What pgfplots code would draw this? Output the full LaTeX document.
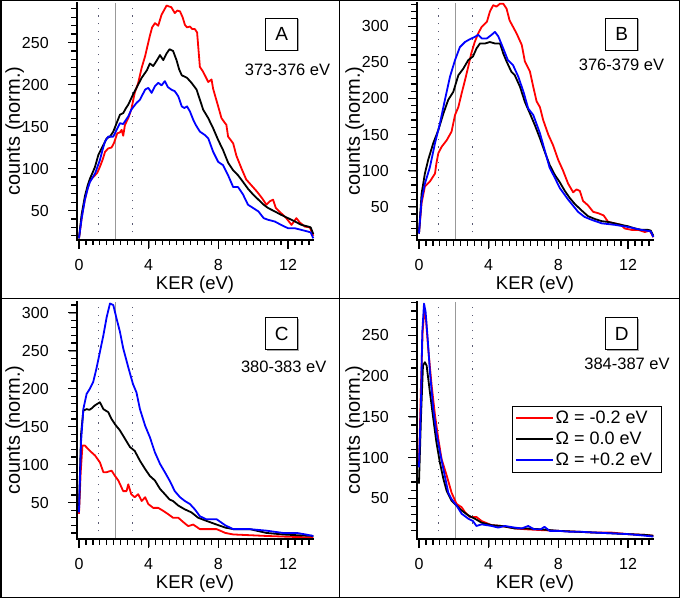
\documentclass[border=0pt]{standalone}
\usepackage{fontspec}
\setmainfont{Liberation Sans}
\usepackage{pgfplots}
\pgfplotsset{compat=1.18}

\definecolor{dotgray}{rgb}{0.35,0.35,0.45}
\definecolor{solgray}{rgb}{0.6,0.6,0.6}

\pgfplotsset{
 panel/.style={
  scale only axis, width=236.6pt, height=237pt,
  xmin=-0.13, xmax=13.45,
  axis x line*=bottom, axis y line*=left,
  axis line style={-, line width=1.6pt},
  tick align=outside,
  major tick length=8pt, minor tick length=5pt,
  xtick={0,4,8,12},
  /pgf/number format/assume math mode=true,
  tick label style={font=\fontsize{16}{19}\selectfont},
  yticklabel style={xshift=-16.5pt},
  xticklabel style={yshift=-8pt},
  xlabel={KER (eV)}, ylabel={counts (norm.)},
  xlabel style={font=\fontsize{18.5}{22}\selectfont, at={(axis description cs:0.5,-0.19)}, anchor=center},
  ylabel style={font=\fontsize{20}{24}\selectfont, at={(axis description cs:-0.262,0.46)}, anchor=center},
  clip=false,
 },
 dl/.style={line width=1.8pt, line join=round},
 tk/.style={forget plot, black, line width=1.2pt, line cap=butt},
 ax/.style={forget plot, black, line width=1.6pt, line cap=rect},
}
\newcommand{\vlines}[2]{%
  \addplot[forget plot, dotgray, line width=1pt, dash pattern=on 1.2pt off 6.5pt] coordinates {(1.1,#1) (1.1,#2)};
  \addplot[forget plot, dotgray, line width=1pt, dash pattern=on 1.2pt off 6.5pt] coordinates {(3.1,#1) (3.1,#2)};
  \addplot[forget plot, solgray, line width=1.2pt] coordinates {(2.1,#1) (2.1,#2)};
}
% axis lines and ticks through the axis: #1 ymin, #2 ymax, #3 major x-tick end, #4 minor x-tick end, #5 major y, #6 minor y
\newcommand{\tickset}[6]{%
  \addplot[ax] coordinates {(-0.13,#2) (-0.13,#1) (13.45,#1)};
  \pgfplotsinvokeforeach{0,4,8,12}{\addplot[tk] coordinates {(##1,#1) (##1,#3)};}
  \pgfplotsinvokeforeach{0.4,0.8,1.2,1.6,2,2.4,2.8,3.2,3.6,4.4,4.8,5.2,5.6,6,6.4,6.8,7.2,7.6,8.4,8.8,9.2,9.6,10,10.4,10.8,11.2,11.6,12.4,12.8,13.2}{\addplot[tk] coordinates {(##1,#1) (##1,#4)};}
  \pgfplotsinvokeforeach{#5}{\addplot[tk] coordinates {(-0.13,##1) (-0.618,##1)};}
  \pgfplotsinvokeforeach{#6}{\addplot[tk] coordinates {(-0.13,##1) (-0.446,##1)};}
}

\begin{document}
\begin{tikzpicture}
\path[use as bounding box] (0pt,0pt) rectangle (680pt,598pt);
\begin{scope}[x=1pt,y=1pt]
\draw[line width=1.5pt] (0.75,0.75) rectangle (679.25,597.25);
\draw[line width=1.5pt] (339.5,0) -- (339.5,598);
\draw[line width=1.5pt] (0,299.5) -- (680,299.5);
\end{scope}

% ---------------- A
\begin{axis}[panel, at={(76.7pt,358pt)}, anchor=south west, ymin=15, ymax=297, ytick={50,100,150,200,250}]
\vlines{15}{297}
\addplot[dl, red] coordinates {(0,17) (0.2,48) (0.34,63) (0.44,72) (0.6,84) (0.73,88) (0.92,92) (1.05,95) (1.2,102) (1.35,110) (1.5,120) (1.68,124) (1.87,125) (2.0,130) (2.07,134) (2.2,142) (2.35,143) (2.45,146) (2.54,139) (2.64,152) (2.83,160) (3.0,170) (3.2,190) (3.4,202) (3.6,220) (3.8,234) (3.9,243) (4.07,258) (4.2,268) (4.36,273) (4.55,270) (4.74,283) (4.9,289) (5.03,294) (5.15,293) (5.3,292) (5.5,285) (5.65,288) (5.8,287) (5.95,280) (6.08,271) (6.2,268) (6.37,269) (6.5,266) (6.65,266) (6.78,262) (6.94,221) (7.13,215) (7.3,208) (7.42,203) (7.61,206) (7.7,195) (7.99,174) (8.18,160) (8.35,155) (8.46,152) (8.56,138) (8.85,130) (9.04,115) (9.33,100) (9.6,87) (9.9,80) (10.2,73) (10.5,65) (10.76,57) (10.95,61) (11.14,63) (11.3,53) (11.6,47) (11.9,41) (12.2,33) (12.48,41) (12.67,36) (12.96,31) (13.25,30) (13.45,20)};
\addplot[dl, black] coordinates {(0,17) (0.15,45) (0.34,67) (0.5,80) (0.63,88) (0.8,96) (0.92,102) (1.11,116) (1.3,124) (1.45,130) (1.59,136) (1.78,138) (1.97,144) (2.16,154) (2.35,164) (2.54,166) (2.7,172) (2.83,176) (3.1,188) (3.4,200) (3.6,208) (3.9,217) (4.07,225) (4.26,222) (4.45,228) (4.65,235) (4.84,229) (5.03,237) (5.2,242) (5.4,240) (5.6,229) (5.75,218) (5.9,211) (6.2,208) (6.46,202) (6.75,194) (6.94,182) (7.13,170) (7.42,160) (7.7,148) (7.99,134) (8.27,122) (8.56,107) (8.85,98) (9.13,92) (9.42,84) (9.7,76) (10.0,69) (10.3,63) (10.6,57) (10.86,53) (11.24,49) (11.6,45) (12.0,41) (12.39,37) (12.77,33) (13.15,31) (13.3,30) (13.45,22)};
\addplot[dl, blue] coordinates {(0,17) (0.15,40) (0.34,63) (0.5,76) (0.63,84) (0.8,90) (0.92,94) (1.2,110) (1.35,122) (1.49,132) (1.68,138) (1.97,138) (2.16,146) (2.35,154) (2.54,153) (2.7,158) (2.83,162) (3.0,170) (3.3,178) (3.5,182) (3.65,188) (3.8,194) (3.98,196) (4.17,190) (4.36,198) (4.55,202) (4.74,199) (4.93,204) (5.1,197) (5.3,194) (5.5,192) (5.7,186) (5.9,174) (6.05,172) (6.2,174) (6.37,168) (6.56,158) (6.7,152) (6.94,144) (7.22,140) (7.42,136) (7.7,120) (7.99,108) (8.27,104) (8.56,92) (8.85,78) (9.13,78) (9.42,69) (9.7,57) (10.0,53) (10.3,49) (10.6,41) (10.86,39) (11.24,37) (11.6,33) (12.0,29) (12.39,29) (12.77,27) (13.15,25) (13.3,24) (13.45,17)};
\tickset{15}{297}{4.886}{8.456}{50,100,150,200,250}{20,30,40,60,70,80,90,110,120,130,140,160,170,180,190,210,220,230,240,260,270,280,290}
\end{axis}

% ---------------- B
\begin{axis}[panel, at={(416.7pt,358pt)}, anchor=south west, ymin=4, ymax=332, ytick={50,100,150,200,250,300}]
\vlines{4}{332}
\addplot[dl, red] coordinates {(0,13) (0.15,55) (0.34,78) (0.63,85) (0.92,96) (1.0,110) (1.11,124) (1.3,133) (1.59,142) (1.87,154) (2.07,177) (2.26,188) (2.45,207) (2.64,225) (2.83,244) (3.0,262) (3.2,278) (3.4,290) (3.6,299) (3.9,306) (4.07,320) (4.26,329) (4.45,327) (4.65,331) (4.84,331) (5.03,324) (5.2,308) (5.4,299) (5.6,290) (5.9,274) (6.08,251) (6.37,237) (6.56,216) (6.75,196) (6.94,188) (7.13,170) (7.42,150) (7.7,135) (7.99,115) (8.27,100) (8.56,82) (8.85,70) (9.04,74) (9.23,72) (9.42,58) (9.7,52) (10.0,43) (10.3,41) (10.6,38) (10.86,29) (11.24,27) (11.6,25) (11.8,20) (12.2,18) (12.6,18) (12.96,15) (13.25,17) (13.45,8)};
\addplot[dl, black] coordinates {(0,13) (0.15,68) (0.34,96) (0.53,115) (0.82,138) (1.11,156) (1.4,179) (1.68,198) (1.97,209) (2.26,232) (2.54,241) (2.83,253) (3.1,258) (3.3,269) (3.5,276) (3.8,276) (4.07,278) (4.36,276) (4.65,276) (4.84,262) (5.03,251) (5.3,237) (5.5,232) (5.8,216) (6.08,195) (6.37,179) (6.65,163) (6.94,145) (7.22,126) (7.5,108) (7.8,94) (8.08,84) (8.37,72) (8.66,62) (8.94,54) (9.33,45) (9.7,37) (10.1,33) (10.5,30) (10.86,29) (11.24,27) (11.6,25) (12.0,23) (12.39,20) (12.77,18) (13.15,18) (13.3,17) (13.45,10)};
\addplot[dl, blue] coordinates {(0,13) (0.15,59) (0.34,82) (0.63,105) (0.92,138) (1.2,165) (1.49,198) (1.78,230) (2.07,253) (2.35,271) (2.64,278) (2.93,282) (3.2,285) (3.4,288) (3.6,283) (3.9,283) (4.17,288) (4.36,292) (4.55,286) (4.84,269) (5.1,253) (5.4,246) (5.7,230) (6.0,209) (6.27,186) (6.56,177) (6.94,152) (7.22,128) (7.5,104) (7.8,90) (8.08,76) (8.56,60) (9.13,43) (9.5,36) (9.9,32) (10.5,27) (11.24,25) (12.0,22) (12.77,18) (13.3,16) (13.45,8)};
\tickset{4}{332}{-7.764}{-3.612}{50,100,150,200,250,300}{10,20,30,40,60,70,80,90,110,120,130,140,160,170,180,190,210,220,230,240,260,270,280,290,310,320,330}
\end{axis}

% ---------------- C
\begin{axis}[panel, at={(76.7pt,59pt)}, anchor=south west, ymin=2, ymax=314, ytick={50,100,150,200,250,300}]
\vlines{2}{314}
\addplot[dl, red] coordinates {(0,35) (0.1,90) (0.2,125) (0.34,125) (0.63,118) (0.92,112) (1.2,103) (1.4,90) (1.59,90) (1.87,92) (2.07,85) (2.26,79) (2.54,65) (2.73,65) (2.83,74) (3.0,61) (3.2,57) (3.4,61) (3.6,52) (3.8,57) (3.98,48) (4.26,43) (4.55,43) (4.84,39) (5.1,35) (5.4,30) (5.7,30) (6.0,24) (6.27,19) (6.56,21) (6.94,15) (7.3,15) (7.9,15) (8.4,10) (8.85,8) (10.76,6) (12.0,5) (13.45,4)};
\addplot[dl, black] coordinates {(0,41) (0.12,140) (0.25,171) (0.44,173) (0.6,172) (0.73,174) (0.92,178) (1.2,182) (1.4,173) (1.68,169) (1.87,160) (2.07,153) (2.35,145) (2.64,134) (2.93,123) (3.2,118) (3.5,105) (3.8,94) (4.07,85) (4.36,79) (4.65,68) (4.93,61) (5.2,54) (5.4,52) (5.7,46) (6.08,41) (6.46,37) (6.84,30) (7.3,26) (7.9,21) (8.4,17) (8.85,15) (9.8,15) (10.76,10) (11.7,8) (12.5,7) (13.45,6)};
\addplot[dl, blue] coordinates {(0,37) (0.12,130) (0.25,173) (0.44,193) (0.63,200) (0.82,209) (1.0,226) (1.2,248) (1.4,270) (1.59,294) (1.78,312) (1.97,310) (2.16,292) (2.35,275) (2.54,253) (2.83,228) (3.1,206) (3.3,195) (3.5,173) (3.8,151) (4.07,136) (4.36,116) (4.65,101) (4.93,90) (5.2,79) (5.5,65) (5.8,57) (6.08,52) (6.37,48) (6.65,41) (6.94,32) (7.3,28) (7.9,28) (8.4,20) (8.85,15) (9.8,15) (10.76,13) (11.7,10) (12.5,10) (13.0,8) (13.45,6)};
\tickset{2}{314}{-9.190}{-5.240}{50,100,150,200,250,300}{10,20,30,40,60,70,80,90,110,120,130,140,160,170,180,190,210,220,230,240,260,270,280,290,310}
\end{axis}

% ---------------- D
\begin{axis}[panel, at={(416.7pt,59pt)}, anchor=south west, ymin=0, ymax=291, ytick={50,100,150,200,250},
  legend style={at={(0.4015,0.5624)}, anchor=north west, draw=black, font=\fontsize{18}{21}\selectfont, inner sep=3pt, row sep=3pt, cells={anchor=west}},
  legend image code/.code={\draw[#1, line width=1.8pt] (0pt,0pt) -- (37pt,0pt);}]
\vlines{0}{291}
\addplot[dl, red] coordinates {(0,90) (0.12,193) (0.21,254) (0.31,281) (0.4,270) (0.53,234) (0.73,188) (0.92,152) (1.11,123) (1.3,98) (1.59,78) (1.87,57) (2.16,43) (2.45,39) (2.64,33) (2.93,27) (3.3,27) (3.6,22) (4.17,17) (4.74,16) (5.5,13) (6.1,12) (6.94,11) (8.0,10) (9.0,9) (10.0,8) (11.0,8) (12.0,6) (13.0,5) (13.45,4)};
\addlegendentry{Ω = -0.2 eV\hspace*{8pt}}
\addplot[dl, black] coordinates {(0,68) (0.12,152) (0.23,213) (0.34,217) (0.44,213) (0.63,180) (0.82,148) (1.0,119) (1.2,94) (1.4,74) (1.59,59) (1.87,47) (2.16,41) (2.45,35) (2.83,29) (3.2,25) (3.6,20) (4.17,17) (4.74,16) (5.5,13) (6.1,13) (6.94,12) (8.0,10) (9.0,9) (10.0,8) (11.0,7) (12.0,6) (13.0,5) (13.45,4)};
\addlegendentry{Ω = 0.0 eV}
\addplot[dl, blue] coordinates {(0,88) (0.12,172) (0.19,254) (0.29,289) (0.38,279) (0.5,246) (0.63,205) (0.82,160) (1.0,131) (1.2,107) (1.4,86) (1.68,57) (1.87,49) (2.16,41) (2.45,31) (2.83,25) (3.1,22) (3.3,16) (3.6,18) (4.17,16) (4.55,14) (4.93,16) (5.5,14) (5.9,13) (6.27,16) (6.6,12) (7.0,12) (7.2,15) (7.5,10) (8.0,10) (8.6,9) (9.2,9) (10.0,8) (11.0,7) (12.0,6) (13.0,4) (13.45,3)};
\addlegendentry{Ω = +0.2 eV}
\tickset{0}{291}{-10.437}{-6.753}{50,100,150,200,250}{10,20,30,40,60,70,80,90,110,120,130,140,160,170,180,190,210,220,230,240,260,270,280,290}
\end{axis}

\begin{scope}[x=1pt,y=1pt]
\foreach \cx/\cy/\L in {281.7/564/A, 621.7/564/B, 281.7/264.5/C, 621.7/264.5/D}{
  \fill[gray!70] (\cx-14.5,\cy-17.5) rectangle (\cx+17.5,\cy+14.5);
  \draw[fill=white, line width=0.9pt] (\cx-16,\cy-16) rectangle (\cx+16,\cy+16);
  \node at (\cx,\cy) {\fontsize{19}{22}\selectfont \L};
}
\node at (287.5,528) {\fontsize{16.5}{19}\selectfont 373-376 eV};
\node at (621.5,533) {\fontsize{16.5}{19}\selectfont 376-379 eV};
\node at (283.7,230.7) {\fontsize{16.5}{19}\selectfont 380-383 eV};
\node at (627,234) {\fontsize{16.5}{19}\selectfont 384-387 eV};
\end{scope}
\end{tikzpicture}
\end{document}
